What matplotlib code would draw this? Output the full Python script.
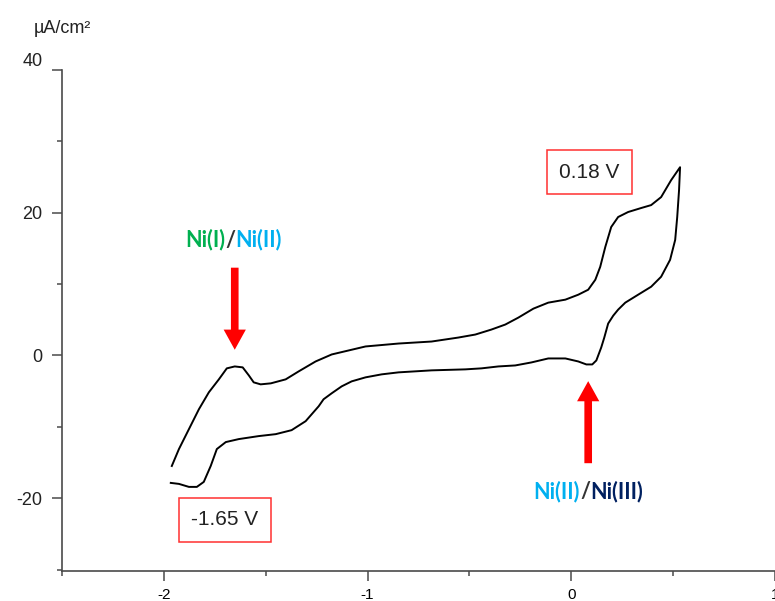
import matplotlib
matplotlib.use("Agg")
import matplotlib.pyplot as plt
from matplotlib.ticker import MultipleLocator
from matplotlib.offsetbox import TextArea, HPacker, AnnotationBbox

# Forward scan (upper branch), V vs µA/cm²
fwd_v = [-1.961, -1.926, -1.877, -1.828, -1.779, -1.730, -1.691, -1.652, -1.613, -1.583,
         -1.559, -1.525, -1.475, -1.402, -1.338, -1.255, -1.176, -1.093, -1.010, -0.848,
         -0.686, -0.554, -0.471, -0.392, -0.324, -0.260, -0.186, -0.113, -0.029, 0.034,
         0.083, 0.118, 0.142, 0.167, 0.196, 0.230, 0.279, 0.343, 0.392, 0.441, 0.490, 0.534]
fwd_i = [-15.49, -13.12, -10.33, -7.54, -5.16, -3.35, -1.81, -1.54, -1.67, -2.79,
         -3.77, -4.05, -3.91, -3.35, -2.23, -0.84, 0.14, 0.70, 1.26, 1.67,
         1.95, 2.51, 2.93, 3.63, 4.33, 5.30, 6.56, 7.40, 7.82, 8.51,
         9.21, 10.61, 12.42, 15.21, 18.00, 19.40, 20.10, 20.66, 21.07, 22.19, 24.56, 26.38]

# Reverse scan (lower branch)
rev_v = [0.534, 0.529, 0.520, 0.510, 0.485, 0.441, 0.392, 0.328, 0.265, 0.230,
         0.206, 0.181, 0.162, 0.147, 0.123, 0.103, 0.074, 0.034, -0.029, -0.113,
         -0.196, -0.275, -0.358, -0.441, -0.520, -0.686, -0.848, -0.931, -1.010, -1.078,
         -1.127, -1.176, -1.216, -1.240, -1.304, -1.373, -1.451, -1.534, -1.632, -1.696,
         -1.740, -1.770, -1.804, -1.838, -1.877, -1.926, -1.966]
rev_i = [26.38, 23.17, 19.40, 16.19, 13.40, 11.03, 9.63, 8.51, 7.40, 6.42,
         5.58, 4.47, 2.51, 1.12, -0.70, -1.26, -1.26, -0.84, -0.42, -0.42,
         -0.98, -1.40, -1.54, -1.81, -1.95, -2.09, -2.37, -2.65, -3.07, -3.63,
         -4.33, -5.30, -6.14, -7.12, -9.21, -10.47, -11.03, -11.30, -11.72, -12.14,
         -13.12, -15.49, -17.72, -18.42, -18.42, -18.00, -17.86]

x_ticks = [-2, -1, 0, 1]
y_ticks = [-20, 0, 20, 40]
y_labels = ["-20", "0", "20", ""]

peak_labels = ["-1.65 V", "0.18 V"]
peak_pos = [(-1.70, -23.0), (0.088, 25.7)]

axis_col = "#4a4a4a"
green = "#00B050"
light_blue = "#00B0F0"
navy = "#002060"

fig = plt.figure(figsize=(7.75, 6.01), dpi=100)
ax = fig.add_axes([0.080, 0.050, 0.920, 0.8335])

ax.plot(fwd_v + rev_v, fwd_i + rev_i, color="black", lw=1.4)

ax.set_xlim(-2.5, 1.0)
ax.set_ylim(-30.2, 40)

for s in ["top", "right"]:
    ax.spines[s].set_visible(False)
for s in ["left", "bottom"]:
    ax.spines[s].set_color(axis_col)
    ax.spines[s].set_linewidth(1.2)

ax.set_xticks(x_ticks)
ax.set_xticklabels([str(t) for t in x_ticks], fontsize=11, family="Liberation Sans")
ax.set_yticks(y_ticks)
ax.set_yticklabels(y_labels, fontsize=13, family="Liberation Sans", color="#222222")
ax.xaxis.set_minor_locator(MultipleLocator(0.5))
ax.yaxis.set_minor_locator(MultipleLocator(10))
ax.tick_params(which="major", length=7, width=1.1, color=axis_col)
ax.tick_params(axis="y", which="major", pad=7)
ax.tick_params(axis="x", which="major", pad=5)
ax.tick_params(which="minor", length=3.5, width=1.1, color=axis_col)

# top label sits a bit above its tick in the original
ax.text(-0.027, 1.0, "40", transform=ax.transAxes, ha="right", va="bottom",
        fontsize=13, family="Liberation Sans", color="#222222")
fig.text(0.081, 0.953, "µA/cm²", ha="center", va="center", fontsize=13,
         family="Liberation Sans", color="#222222")

# peak potential boxes
for lbl, (px, py) in zip(peak_labels, peak_pos):
    ax.text(px, py, lbl, ha="center", va="center", fontsize=15,
            family="Liberation Sans", color="#222222",
            bbox=dict(boxstyle="square,pad=0.6", fc="white", ec="#ff3030", lw=1.1))

# red arrows
arrow_style = "simple,head_width=1.6,head_length=1.45,tail_width=0.55"
ax.annotate("", xy=(-1.652, 0.8), xytext=(-1.652, 12.3),
            arrowprops=dict(arrowstyle=arrow_style, color="#ff0000", lw=0,
                            mutation_scale=10, shrinkA=0, shrinkB=0))
ax.annotate("", xy=(0.083, -3.6), xytext=(0.083, -15.1),
            arrowprops=dict(arrowstyle=arrow_style, color="#ff0000", lw=0,
                            mutation_scale=10, shrinkA=0, shrinkB=0))


def couple_label(parts, xy):
    areas = [TextArea(t, textprops=dict(color=c, fontsize=15.5, fontweight="bold",
                                         family="Lato"))
             for t, c in parts]
    box = HPacker(children=areas, align="baseline", pad=0, sep=0)
    ab = AnnotationBbox(box, xy, xycoords="data", frameon=False, box_alignment=(0.5, 0.5))
    ax.add_artist(ab)


couple_label([("Ni(I)", green), ("/", "#333333"), ("Ni(II)", light_blue)], (-1.657, 16.2))
couple_label([("Ni(II)", light_blue), ("/", "#333333"), ("Ni(III)", navy)], (0.083, -19.0))

plt.savefig("out.png", dpi=100)
